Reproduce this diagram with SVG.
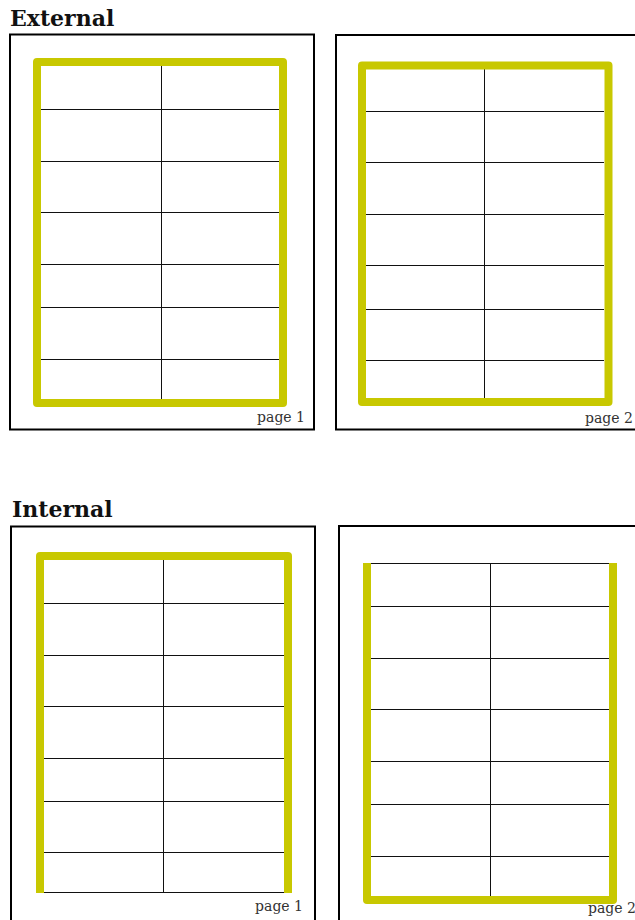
<svg xmlns="http://www.w3.org/2000/svg" width="635" height="920" viewBox="0 0 635 920">
<style>
.title{font-family:"DejaVu Serif","Liberation Serif",serif;font-weight:bold;font-size:22px;fill:#111}
.page{font-family:"DejaVu Serif","Liberation Serif",serif;font-size:14px;fill:#333}
.box{fill:none;stroke:#000;stroke-width:2}
.grid{fill:none;stroke:#111;stroke-width:1;shape-rendering:crispEdges}
.hl{fill:none;stroke:#c8c800;stroke-width:8;stroke-linejoin:round;stroke-linecap:butt}
</style>
<rect width="635" height="920" fill="#fff"/>
<text class="title" x="10" y="26">External</text>
<text class="title" x="12" y="517">Internal</text>
<g id="ext-page1">
<rect class="box" x="10" y="34.5" width="304" height="395"/>
<path class="grid" d="M161.5,66V399 M41,109.5H279 M41,161.5H279 M41,212.5H279 M41,264.5H279 M41,307.5H279 M41,359.5H279"/>
<path class="hl" d="M37,62H283V403H37Z"/>
<text class="page" x="305" y="422" text-anchor="end">page 1</text>
</g>
<g id="ext-page2">
<rect class="box" x="336" y="35" width="320" height="394.5"/>
<path class="grid" d="M484.5,69V398 M366,111.5H604 M366,162.5H604 M366,214.5H604 M366,265.5H604 M366,309.5H604 M366,360.5H604"/>
<path class="hl" d="M362,65.5H608.5V402H362Z"/>
<text class="page" x="585" y="423">page 2</text>
</g>
<g id="int-page1">
<rect class="box" x="11" y="526.5" width="304" height="420"/>
<path class="grid" d="M163.5,560V893 M44,603.5H284 M44,655.5H284 M44,706.5H284 M44,758.5H284 M44,801.5H284 M44,852.5H284 M44,892.5H284"/>
<path class="hl" d="M40,893V556H288V893"/>
<text class="page" x="303" y="911" text-anchor="end">page 1</text>
</g>
<g id="int-page2">
<rect class="box" x="339" y="526" width="320" height="420"/>
<path class="grid" d="M490.5,563V896 M371,563.5H609 M371,606.5H609 M371,658.5H609 M371,709.5H609 M371,761.5H609 M371,804.5H609 M371,856.5H609"/>
<path class="hl" d="M367,563V900H613V563"/>
<text class="page" x="588" y="913">page 2</text>
</g>
<g id="connectors"/>
</svg>
